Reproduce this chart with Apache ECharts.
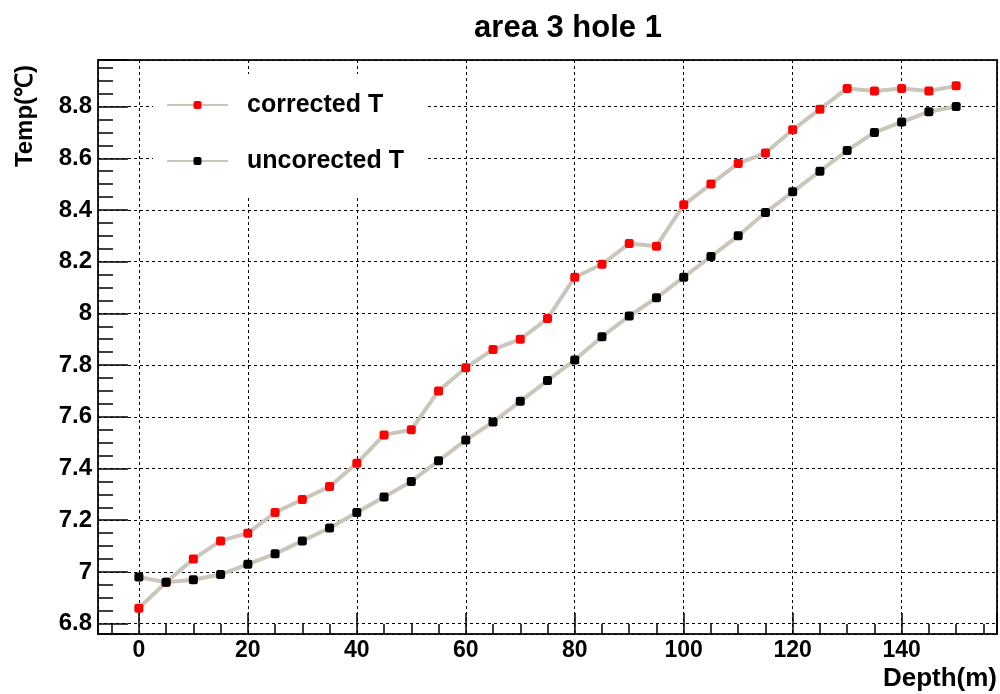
<!DOCTYPE html>
<html>
<head>
<meta charset="utf-8">
<script src="https://cdn.jsdelivr.net/npm/echarts@6/dist/echarts.min.js"></script>
<style>
html,body{margin:0;padding:0;background:#fff;}
#chart{width:1000px;height:694px;}
</style>
</head>
<body>
<div id="chart"></div>
<script>
// ---- data ----
var depths = [0,5,10,15,20,25,30,35,40,45,50,55,60,65,70,75,80,85,90,95,100,105,110,115,120,125,130,135,140,145,150];
var correctedT = [6.86,6.96,7.05,7.12,7.15,7.23,7.28,7.33,7.42,7.53,7.55,7.70,7.79,7.86,7.90,7.98,8.14,8.19,8.27,8.26,8.42,8.50,8.58,8.62,8.71,8.79,8.87,8.86,8.87,8.86,8.88];
var uncorrectedT = [6.98,6.96,6.97,6.99,7.03,7.07,7.12,7.17,7.23,7.29,7.35,7.43,7.51,7.58,7.66,7.74,7.82,7.91,7.99,8.06,8.14,8.22,8.30,8.39,8.47,8.55,8.63,8.70,8.74,8.78,8.80];
var seriesNames = ['corrected T', 'uncorected T'];
var titleText = 'area 3 hole 1';
var xName = 'Depth(m)';
var yName = 'Temp(\u2103)';
var xRange = [-7.5, 157.5];
var yRange = [6.76, 8.98];
var xMajor = 20, xMinor = 5;
var yMajor = 0.2, yMinor = 0.05;

function pairs(xs, ys){ return xs.map(function(x,i){ return [x, ys[i]]; }); }
function isMult(v, step){ var r = v/step; return Math.abs(r - Math.round(r)) < 1e-6; }

var FONT = 'Liberation Sans, Arial, sans-serif';
var LINE_COLOR = '#cbc6bb';

var chart = echarts.init(document.getElementById('chart'), null, {renderer:'canvas'});
var option = {
  animation: false,
  backgroundColor: '#fff',
  grid: {left: 98, top: 60, right: 3, bottom: 60, show: true, borderColor: '#222', borderWidth: 2, backgroundColor: 'transparent', containLabel: false},
  xAxis: [
    {type: 'value', min: xRange[0], max: xRange[1], minInterval: xMajor, maxInterval: xMajor, splitNumber: 8,
     position: 'bottom',
     axisLine: {show: false, onZero: false},
     axisTick: {show: true, inside: true, length: 21, lineStyle: {color: '#000', width: 1.5}},
     axisLabel: {show: true, margin: 5, color: '#000', fontFamily: FONT, fontWeight: 'bold', fontSize: 23,
       formatter: function(v){ return isMult(v, xMajor) ? String(Math.round(v)) : ''; }},
     splitLine: {show: true, lineStyle: {color: '#000', width: 1, type: [3,3]}}
    },
    {type: 'value', min: xRange[0], max: xRange[1], minInterval: xMinor, maxInterval: xMinor, splitNumber: 33,
     position: 'bottom',
     axisLine: {show: false, onZero: false},
     axisTick: {show: true, inside: true, length: 10, lineStyle: {color: '#000', width: 1.5}},
     axisLabel: {show: false},
     splitLine: {show: false}
    }
  ],
  yAxis: [
    {type: 'value', min: yRange[0], max: yRange[1], minInterval: yMajor, maxInterval: yMajor, splitNumber: 11,
     position: 'left',
     axisLine: {show: false, onZero: false},
     axisTick: {show: true, inside: true, length: 30, lineStyle: {color: '#000', width: 1.5}},
     axisLabel: {show: true, margin: 6, color: '#000', fontFamily: FONT, fontWeight: 'bold', fontSize: 24,
       formatter: function(v){ return isMult(v, yMajor) ? String(Math.round(v*10)/10) : ''; }},
     splitLine: {show: true, lineStyle: {color: '#000', width: 1, type: [3,3]}}
    },
    {type: 'value', min: yRange[0], max: yRange[1], minInterval: yMinor, maxInterval: yMinor, splitNumber: 44,
     position: 'left',
     axisLine: {show: false, onZero: false},
     axisTick: {show: true, inside: true, length: 15, lineStyle: {color: '#000', width: 1.5}},
     axisLabel: {show: false},
     splitLine: {show: false}
    }
  ],
  legend: {
    orient: 'vertical', left: 153, top: 74,
    padding: [18, 22, 21, 13],
    backgroundColor: '#fff',
    itemWidth: 61, itemHeight: 10, itemGap: 30,
    textStyle: {color: '#000', fontFamily: FONT, fontWeight: 'bold', fontSize: 25, lineHeight: 26, padding: [0,0,0,14]},
    data: seriesNames
  },
  series: [
    {name: seriesNames[0], type: 'line', data: pairs(depths, correctedT), xAxisIndex: 0, yAxisIndex: 0,
     symbol: 'roundRect', symbolSize: 9, z: 3,
     lineStyle: {color: LINE_COLOR, width: 4}, itemStyle: {color: '#ff0000'}},
    {name: seriesNames[1], type: 'line', data: pairs(depths, uncorrectedT), xAxisIndex: 0, yAxisIndex: 0,
     symbol: 'roundRect', symbolSize: 9, z: 3,
     lineStyle: {color: LINE_COLOR, width: 4}, itemStyle: {color: '#000000'}}
  ],
  graphic: [
    {type: 'text', x: 568, y: 28, style: {text: titleText, fill: '#000', font: 'bold 31px ' + FONT, textAlign: 'center', textVerticalAlign: 'middle'}},
    {type: 'text', x: 997, y: 679, style: {text: xName, fill: '#000', font: 'bold 26px ' + FONT, textAlign: 'right', textVerticalAlign: 'middle'}},
    {type: 'text', x: 25, y: 116, rotation: Math.PI/2, style: {text: yName, fill: '#000', font: 'bold 24px ' + FONT, textAlign: 'center', textVerticalAlign: 'middle'}}
  ]
};
chart.setOption(option);
</script>
</body>
</html>
